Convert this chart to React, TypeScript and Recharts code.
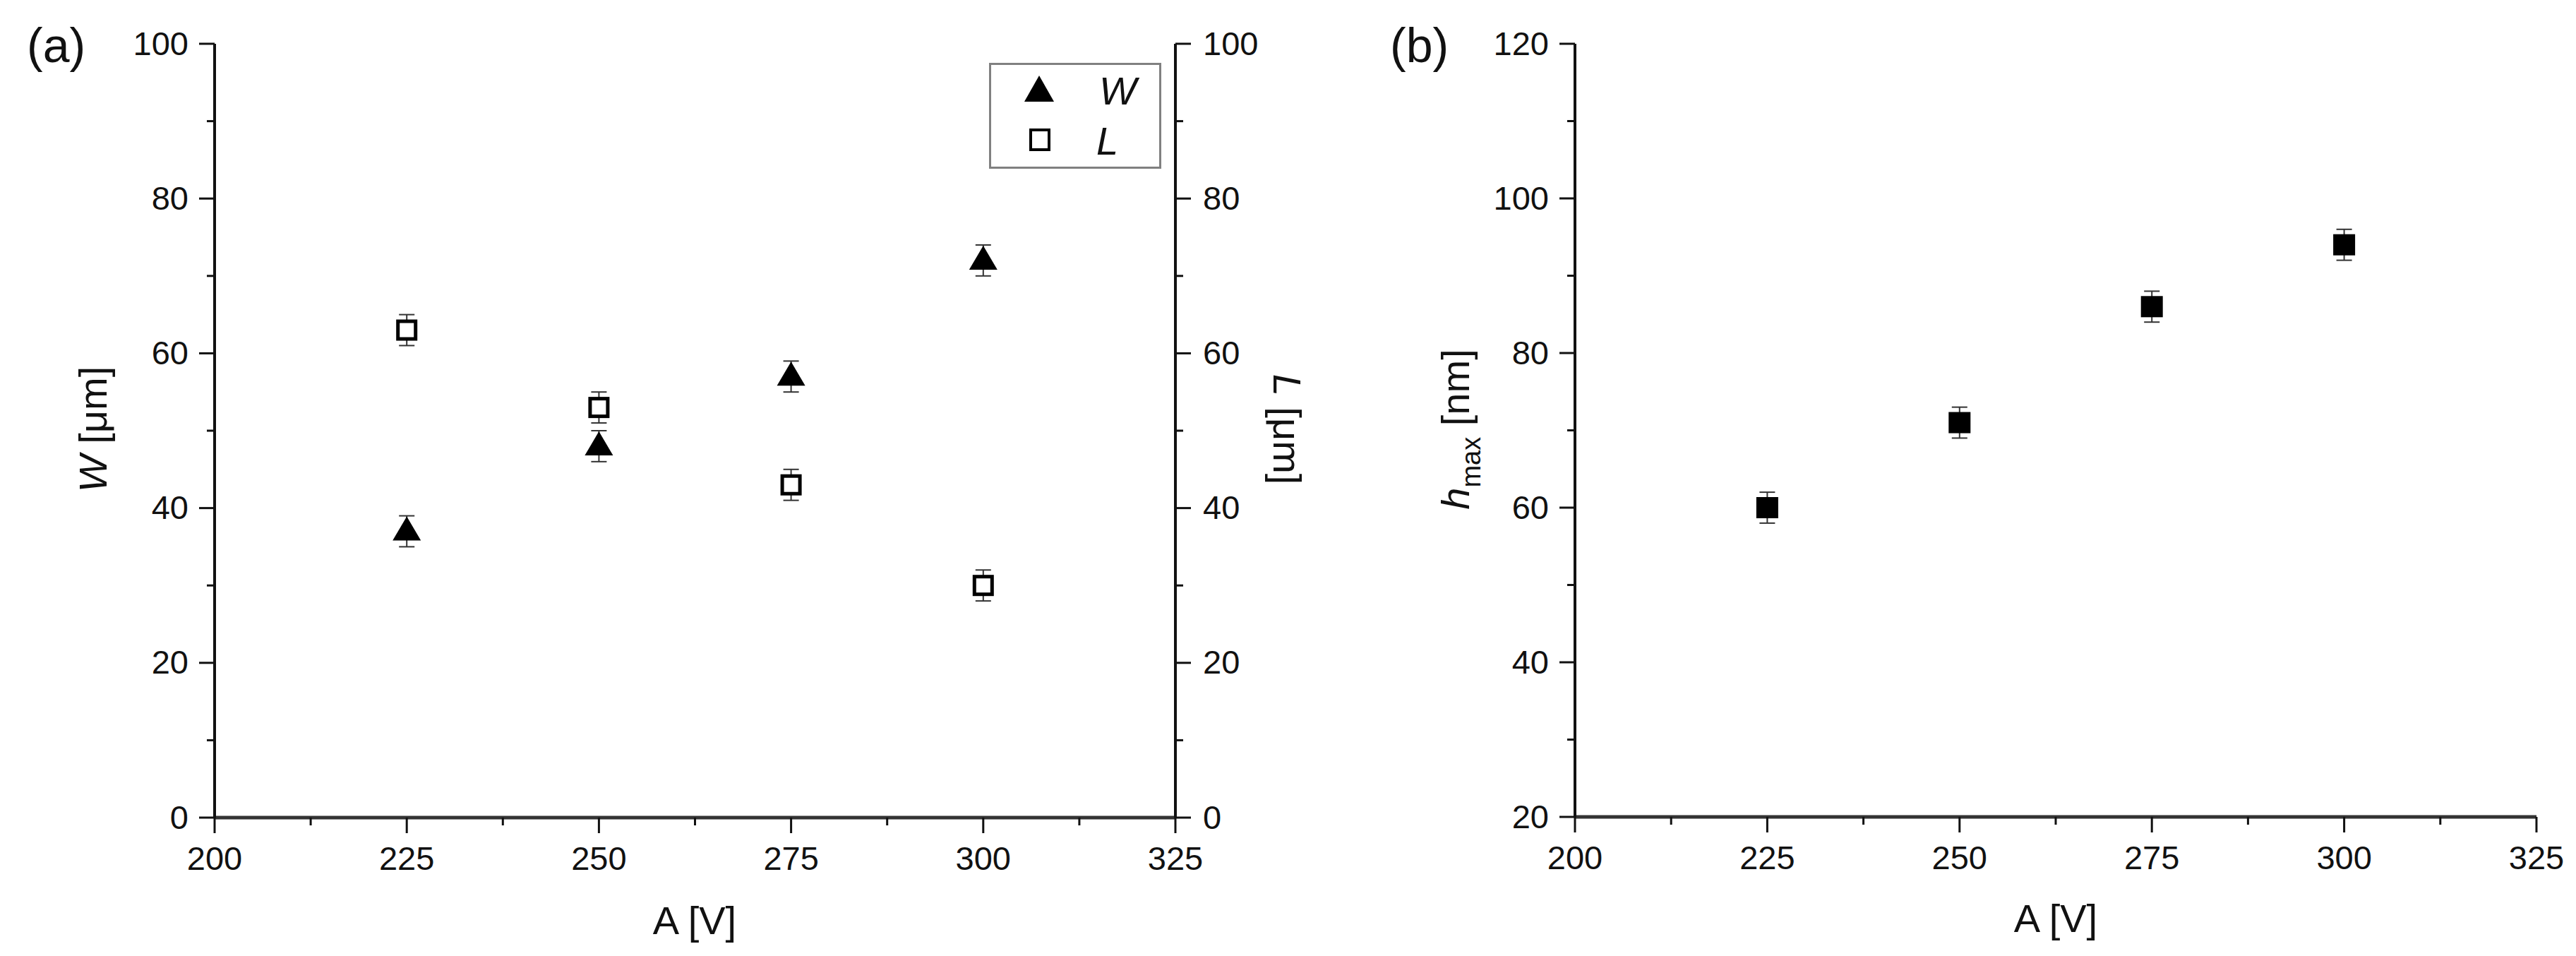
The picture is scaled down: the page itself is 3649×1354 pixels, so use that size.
import React from "react";
import {
  ScatterChart,
  Scatter,
  XAxis,
  YAxis,
  ErrorBar,
  Legend,
} from "recharts";

// values
const voltages = [225, 250, 275, 300];
const widthW = [37, 48, 57, 72];
const widthWErr = [2, 2, 2, 2];
const lengthL = [63, 53, 43, 30];
const lengthLErr = [2, 2, 2, 2];
const hMax = [60, 71, 86, 94];
const hMaxErr = [2, 2, 2, 2];

// tick positions (minor ticks in between majors)
const xTicks = [200, 212.5, 225, 237.5, 250, 262.5, 275, 287.5, 300, 312.5, 325];
const yTicksA = [0, 10, 20, 30, 40, 50, 60, 70, 80, 90, 100];
const yTicksB = [20, 30, 40, 50, 60, 70, 80, 90, 100, 110, 120];

const wData = voltages.map((a, i) => ({ a, v: widthW[i], err: widthWErr[i] }));
const lData = voltages.map((a, i) => ({ a, v: lengthL[i], err: lengthLErr[i] }));
const hData = voltages.map((a, i) => ({ a, v: hMax[i], err: hMaxErr[i] }));

const FONT = '"Liberation Sans", Arial, sans-serif';
const TICK_FONT = 47;
const TITLE_FONT = 56;
const MAJOR = 22;
const MINOR = 11;
const INK = "#111";

const isMajor = (v: number, base: number, step: number) => {
  const k = (v - base) / step;
  return Math.abs(k - Math.round(k)) < 1e-6;
};

// custom tick: draws its own tick line (major/minor) and, if wanted, the label
const makeTick =
  (side: "left" | "right" | "top" | "bottom", inward: boolean, showLabel: boolean, base: number, step: number) =>
  (props: any) => {
    const { x, y, payload } = props;
    const v = payload.value;
    const major = isMajor(v, base, step);
    const len = major ? MAJOR : MINOR;
    let line = null;
    let label = null;
    if (side === "left") {
      const d = inward ? 1 : -1;
      line = <line x1={x} y1={y} x2={x + d * len} y2={y} stroke={INK} strokeWidth={3} />;
      if (showLabel && major)
        label = (
          <text x={x - MAJOR - 15} y={y + TICK_FONT * 0.33} textAnchor="end" fontSize={TICK_FONT} fontFamily={FONT} fill={INK}>
            {v}
          </text>
        );
    } else if (side === "right") {
      const d = inward ? -1 : 1;
      line = <line x1={x} y1={y} x2={x + d * len} y2={y} stroke={INK} strokeWidth={3} />;
      if (showLabel && major)
        label = (
          <text x={x + MAJOR + 17} y={y + TICK_FONT * 0.33} textAnchor="start" fontSize={TICK_FONT} fontFamily={FONT} fill={INK}>
            {v}
          </text>
        );
    } else if (side === "bottom") {
      const d = inward ? -1 : 1;
      line = <line x1={x} y1={y} x2={x} y2={y + d * len} stroke={INK} strokeWidth={3} />;
      if (showLabel && major)
        label = (
          <text x={x} y={y + 74} textAnchor="middle" fontSize={TICK_FONT} fontFamily={FONT} fill={INK}>
            {v}
          </text>
        );
    } else {
      const d = inward ? 1 : -1;
      line = <line x1={x} y1={y} x2={x} y2={y + d * len} stroke={INK} strokeWidth={3} />;
    }
    return (
      <g>
        {line}
        {label}
      </g>
    );
  };

// markers
const Triangle = (props: any) => {
  const { cx, cy } = props;
  return <polygon points={`${cx},${cy - 21} ${cx - 20},${cy + 13} ${cx + 20},${cy + 13}`} fill="#000" />;
};
const OpenSquare = (props: any) => {
  const { cx, cy } = props;
  return <rect x={cx - 12.5} y={cy - 12.5} width={25} height={25} fill="#fff" stroke="#000" strokeWidth={5} />;
};
const FilledSquare = (props: any) => {
  const { cx, cy } = props;
  return <rect x={cx - 15.5} y={cy - 15} width={31} height={30} fill="#000" />;
};

// axis titles and panel letters (chart-local coordinates)
const TitleA = () => (
  <g>
    <text x={38} y={88} fontSize={68} fontFamily={FONT} fill={INK}>(a)</text>
    <text transform="rotate(-90, 151, 608)" x={151} y={608} textAnchor="middle" fontSize={TITLE_FONT} fontFamily={FONT} fill={INK}>
      <tspan fontStyle="italic">W</tspan> [μm]
    </text>
  </g>
);
const TitleL = () => (
  <text transform="rotate(90, 1804, 608)" x={1804} y={608} textAnchor="middle" fontSize={TITLE_FONT} fontFamily={FONT} fill={INK}>
    <tspan fontStyle="italic">L</tspan> [μm]
  </text>
);
const TitleXA = () => (
  <text x={984} y={1323} textAnchor="middle" fontSize={TITLE_FONT} fontFamily={FONT} fill={INK}>A [V]</text>
);
const TitleB = () => (
  <g>
    <text x={69} y={88} fontSize={68} fontFamily={FONT} fill={INK}>(b)</text>
    <text transform="rotate(-90, 181, 608)" x={181} y={608} textAnchor="middle" fontSize={TITLE_FONT} fontFamily={FONT} fill={INK}>
      <tspan fontStyle="italic">h</tspan>
      <tspan fontSize={38} dy={16}>max</tspan>
      <tspan dy={-16}> [nm]</tspan>
    </text>
  </g>
);
const TitleXB = () => (
  <text x={1012} y={1320} textAnchor="middle" fontSize={TITLE_FONT} fontFamily={FONT} fill={INK}>A [V]</text>
);

const LegendBox = () => (
  <div style={{ width: 244, height: 150, boxSizing: "border-box", border: "3px solid #808080", background: "#fff" }}>
    <svg width={238} height={144} style={{ display: "block" }}>
      <polygon points="68,15 47,52 89,52" fill="#000" />
      <text x={153} y={56} fontSize={56} fontStyle="italic" fontFamily={FONT} fill={INK}>W</text>
      <rect x={56} y={92} width={26} height={28} fill="#fff" stroke="#000" strokeWidth={4} />
      <text x={149} y={127} fontSize={56} fontStyle="italic" fontFamily={FONT} fill={INK}>L</text>
    </svg>
  </div>
);

const frameV = { stroke: "#111", strokeWidth: 4 };
const frameH = { stroke: "#333", strokeWidth: 5 };

const App: React.FC = () => {
  return (
    <div style={{ position: "absolute", left: 0, top: 0, width: 3649, height: 1354, background: "#fff", fontFamily: FONT }}>
      {/* panel (a) */}
      <div style={{ position: "absolute", left: 0, top: 0 }}>
        <ScatterChart width={1900} height={1354} margin={{ top: 62, right: 0, bottom: 0, left: 0 }}>
          <XAxis
            xAxisId="bottom"
            type="number"
            dataKey="a"
            domain={[200, 325]}
            ticks={xTicks}
            interval={0}
            allowDataOverflow
            height={196}
            tickSize={0}
            tickMargin={0}
            tickLine={false}
            axisLine={frameH}
            tick={makeTick("bottom", false, true, 200, 25)}
            label={<TitleXA />}
          />
          <XAxis
            xAxisId="top"
            orientation="top"
            type="number"
            dataKey="a"
            domain={[200, 325]}
            ticks={xTicks}
            interval={0}
            allowDataOverflow
            height={0}
            tickSize={0}
            tickMargin={0}
            tickLine={false}
            axisLine={frameH}
            tick={makeTick("top", true, false, 200, 25)}
          />
          <YAxis
            yAxisId="W"
            type="number"
            dataKey="v"
            domain={[0, 100]}
            ticks={yTicksA}
            interval={0}
            allowDataOverflow
            width={304}
            tickSize={0}
            tickMargin={0}
            tickLine={false}
            axisLine={frameV}
            tick={makeTick("left", false, true, 0, 20)}
            label={<TitleA />}
          />
          <YAxis
            yAxisId="L"
            orientation="right"
            type="number"
            dataKey="v"
            domain={[0, 100]}
            ticks={yTicksA}
            interval={0}
            allowDataOverflow
            width={235}
            tickSize={0}
            tickMargin={0}
            tickLine={false}
            axisLine={frameV}
            tick={makeTick("right", false, true, 0, 20)}
            label={<TitleL />}
          />
          <Legend
            layout="vertical"
            align="center"
            verticalAlign="middle"
            content={<LegendBox />}
            wrapperStyle={{ left: 1401, top: 89, width: 244, height: 150 }}
          />
          <Scatter name="W" data={wData} xAxisId="bottom" yAxisId="W" shape={<Triangle />} isAnimationActive={false}>
            <ErrorBar dataKey="err" direction="y" width={11} stroke="#333" strokeWidth={2} isAnimationActive={false} />
          </Scatter>
          <Scatter name="L" data={lData} xAxisId="bottom" yAxisId="L" shape={<OpenSquare />} isAnimationActive={false}>
            <ErrorBar dataKey="err" direction="y" width={11} stroke="#333" strokeWidth={2} isAnimationActive={false} />
          </Scatter>
        </ScatterChart>
      </div>

      {/* panel (b) */}
      <div style={{ position: "absolute", left: 1900, top: 0 }}>
        <ScatterChart width={1749} height={1354} margin={{ top: 62, right: 56, bottom: 0, left: 0 }}>
          <XAxis
            xAxisId="bottom"
            type="number"
            dataKey="a"
            domain={[200, 325]}
            ticks={xTicks}
            interval={0}
            allowDataOverflow
            height={197}
            tickSize={0}
            tickMargin={0}
            tickLine={false}
            axisLine={frameH}
            tick={makeTick("bottom", false, true, 200, 25)}
            label={<TitleXB />}
          />
          <XAxis
            xAxisId="top"
            orientation="top"
            type="number"
            dataKey="a"
            domain={[200, 325]}
            ticks={xTicks}
            interval={0}
            allowDataOverflow
            height={0}
            tickSize={0}
            tickMargin={0}
            tickLine={false}
            axisLine={frameH}
            tick={makeTick("top", true, false, 200, 25)}
          />
          <YAxis
            yAxisId="h"
            type="number"
            dataKey="v"
            domain={[20, 120]}
            ticks={yTicksB}
            interval={0}
            allowDataOverflow
            width={331}
            tickSize={0}
            tickMargin={0}
            tickLine={false}
            axisLine={frameV}
            tick={makeTick("left", false, true, 20, 20)}
            label={<TitleB />}
          />
          <YAxis
            yAxisId="hr"
            orientation="right"
            type="number"
            dataKey="v"
            domain={[20, 120]}
            ticks={yTicksB}
            interval={0}
            allowDataOverflow
            width={0}
            tickSize={0}
            tickMargin={0}
            tickLine={false}
            axisLine={frameV}
            tick={makeTick("right", true, false, 20, 20)}
          />
          <Scatter name="hmax" data={hData} xAxisId="bottom" yAxisId="h" shape={<FilledSquare />} isAnimationActive={false}>
            <ErrorBar dataKey="err" direction="y" width={11} stroke="#333" strokeWidth={2} isAnimationActive={false} />
          </Scatter>
        </ScatterChart>
      </div>
    </div>
  );
};

export default App;
